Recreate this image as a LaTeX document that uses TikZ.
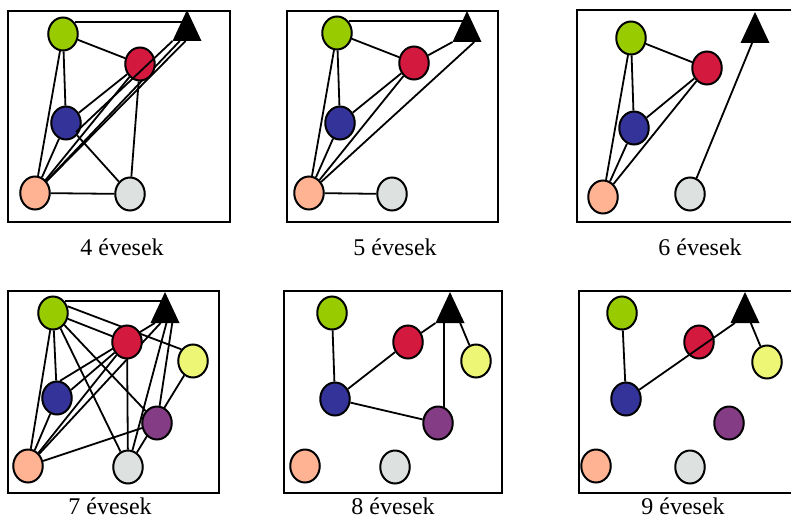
\documentclass[tikz,border=0pt]{standalone}
\usepackage{fontspec}
\setmainfont{Liberation Serif}
\usetikzlibrary{shapes.geometric,calc}
\pgfdeclarelayer{edges}
\pgfsetlayers{edges,main}

\definecolor{cgreen}{HTML}{99CC00}
\definecolor{cred}{HTML}{D4193F}
\definecolor{cblue}{HTML}{333399}
\definecolor{corange}{HTML}{FFB393}
\definecolor{cgray}{HTML}{DDE1DF}
\definecolor{cyellow}{HTML}{EEF675}
\definecolor{cpurple}{HTML}{843C84}

\tikzset{
  dot/.style={ellipse, draw=black, line width=2pt, minimum width=29.5pt,
    minimum height=33pt, inner sep=0pt},
  link/.style={line width=1.8pt, draw=black},
  frame/.style={line width=1.8pt, draw=black},
  caption/.style={anchor=base, inner sep=0pt, font=\fontsize{24}{28}\selectfont},
}

% black triangle: name, apex x, apex y
\newcommand\marker[3]{%
  \path (#2,#3) coordinate (#1a) ++(-14.5,31) coordinate (#1l) ++(29,0) coordinate (#1r);
  \coordinate (#1) at ($(#1l)!0.5!(#1r)$);
  \fill (#1a) -- (#1l) -- (#1r) -- cycle;
}

\begin{document}
\begin{tikzpicture}[x=1pt,y=-1pt]
\useasboundingbox (0,0) rectangle (791,519);

% ---------- 4 évesek ----------
\draw[frame] (8,11) rectangle (230,222);
\node[dot,fill=cgreen]  (g1) at (63,34) {};
\node[dot,fill=cred]    (r1) at (140,64) {};
\node[dot,fill=cblue]   (b1) at (66,123) {};
\node[dot,fill=corange] (o1) at (35,193) {};
\node[dot,fill=cgray]   (w1) at (130,194) {};
\marker{t1}{187}{10}
\begin{pgfonlayer}{edges}
  \draw[link] (g1.45) -- (g1.45 -| t1a);
  \draw[link] (g1) -- (r1);
  \draw[link] (g1) -- (b1);
  \draw[link] (g1) -- (o1);
  \draw[link] (r1) -- (b1);
  \draw[link] (r1) -- (w1);
  \draw[link] (b1) -- (w1);
  \draw[link] (b1) -- (o1);
  \draw[link] (o1) -- (w1);
  \draw[link] (o1) -- (r1);
  \draw[link] (o1) -- ($(t1l)!0.25!(t1r)$);
  \draw[link] (o1) -- ($(t1l)!0.45!(t1r)$);
\end{pgfonlayer}
\coordinate (b1in) at ($(b1)+(10,9)$);
\draw[link] (b1in) -- (t1l);
\node[caption] (l4) at (122,255) {4 évesek};

% ---------- 5 évesek ----------
\draw[frame] (287,11) rectangle (498,222);
\node[dot,fill=cgreen]  (g2) at (337,33) {};
\node[dot,fill=cred]    (r2) at (414,63) {};
\node[dot,fill=cblue]   (b2) at (340,123) {};
\node[dot,fill=corange] (o2) at (309,193) {};
\node[dot,fill=cgray]   (w2) at (392,194) {};
\marker{t2}{467}{11}
\begin{pgfonlayer}{edges}
  \draw[link] (g2.45) -- (g2.45 -| t2a);
  \draw[link] (g2) -- (r2);
  \draw[link] (g2) -- (b2);
  \draw[link] (g2) -- (o2);
  \draw[link] (r2) -- (t2l);
  \draw[link] (r2) -- (b2);
  \draw[link] (r2) -- (o2);
  \draw[link] (b2) -- (o2);
  \draw[link] (o2) -- ($(t2l)!0.75!(t2r)$);
  \draw[link] (o2) -- (w2);
\end{pgfonlayer}
\node[caption] (l5) at (395,255) {5 évesek};

% ---------- 6 évesek ----------
\draw[frame] (577,10) rectangle (800,222);
\node[dot,fill=cgreen]  (g3) at (631,38) {};
\node[dot,fill=cred]    (r3) at (707,68) {};
\node[dot,fill=cblue]   (b3) at (634,128) {};
\node[dot,fill=corange] (o3) at (603,197) {};
\node[dot,fill=cgray]   (w3) at (690,194) {};
\marker{t3}{755}{12}
\begin{pgfonlayer}{edges}
  \draw[link] (g3) -- (r3);
  \draw[link] (g3) -- (b3);
  \draw[link] (g3) -- (o3);
  \draw[link] (r3) -- (b3);
  \draw[link] (r3) -- (o3);
  \draw[link] (b3) -- (o3);
  \draw[link] (w3) -- ($(t3l)!0.4!(t3r)$);
\end{pgfonlayer}
\node[caption] (l6) at (700,255) {6 évesek};

% ---------- 7 évesek ----------
\draw[frame] (8,291) rectangle (219,493);
\node[dot,fill=cgreen]   (g4) at (53,313) {};
\node[dot,fill=cred]     (r4) at (127,342) {};
\node[dot,fill=cyellow]  (y4) at (193,361) {};
\node[dot,fill=cblue]    (b4) at (57,398) {};
\node[dot,fill=cpurple]  (p4) at (157,423) {};
\node[dot,fill=corange]  (o4) at (28,466) {};
\node[dot,fill=cgray]    (w4) at (128,467) {};
\marker{t4}{165}{292}
\begin{pgfonlayer}{edges}
  \draw[link] (g4.45) -- (g4.45 -| t4a);
  \draw[link] (g4.25) -- (y4.135);
  \draw[link] (g4) -- (r4);
  \draw[link] (g4) -- (b4);
  \draw[link] (g4) -- (o4);
  \draw[link] (g4) -- (p4);
  \draw[link] (g4) -- (w4);
  \draw[link] (b4.80) -- ($(t4l)!0.15!(t4r)$);
  \draw[link] (b4.30) -- (r4);
  \draw[link] (o4) -- (b4);
  \draw[link] (o4) -- (r4);
  \draw[link] (o4) -- ($(t4l)!0.35!(t4r)$);
  \draw[link] (w4) -- ($(t4l)!0.55!(t4r)$);
  \draw[link] (p4) -- ($(t4l)!0.75!(t4r)$);
  \draw[link] (r4) -- (w4);
  \draw[link] (y4) -- (w4);
  \draw[link] (o4) -- (p4);
\end{pgfonlayer}
\node[caption] (l7) at (110,514) {7 évesek};

% ---------- 8 évesek ----------
\draw[frame] (284,291) rectangle (502,493);
\node[dot,fill=cgreen]   (g5) at (332,313) {};
\node[dot,fill=cred]     (r5) at (408,342) {};
\node[dot,fill=cyellow]  (y5) at (476,361) {};
\node[dot,fill=cblue]    (b5) at (335,399) {};
\node[dot,fill=cpurple]  (p5) at (438,423) {};
\node[dot,fill=corange]  (o5) at (305,466) {};
\node[dot,fill=cgray]    (w5) at (395,467) {};
\marker{t5}{450}{292}
\begin{pgfonlayer}{edges}
  \draw[link] (g5) -- (b5);
  \draw[link] (b5) -- (r5);
  \draw[link] (r5) -- (t5l);
  \draw[link] (b5) -- (p5);
  \draw[link] (p5.70) -- (p5.70 |- t5);
  \draw[link] (y5) -- ($(t5l)!0.85!(t5r)$);
\end{pgfonlayer}
\node[caption] (l8) at (393,514) {8 évesek};

% ---------- 9 évesek ----------
\draw[frame] (579,291) rectangle (800,493);
\node[dot,fill=cgreen]   (g6) at (622,313) {};
\node[dot,fill=cred]     (r6) at (699,342) {};
\node[dot,fill=cyellow]  (y6) at (767,362) {};
\node[dot,fill=cblue]    (b6) at (626,399) {};
\node[dot,fill=cpurple]  (p6) at (729,423) {};
\node[dot,fill=corange]  (o6) at (596,466) {};
\node[dot,fill=cgray]    (w6) at (690,467) {};
\marker{t6}{745}{292}
\begin{pgfonlayer}{edges}
  \draw[link] (g6) -- (b6);
  \draw[link] (y6) -- ($(t6l)!0.7!(t6r)$);
\end{pgfonlayer}
\draw[link] (b6) -- ($(t6l)!0.15!(t6r)$);
\node[caption] (l9) at (683,514) {9 évesek};

\end{tikzpicture}
\end{document}
